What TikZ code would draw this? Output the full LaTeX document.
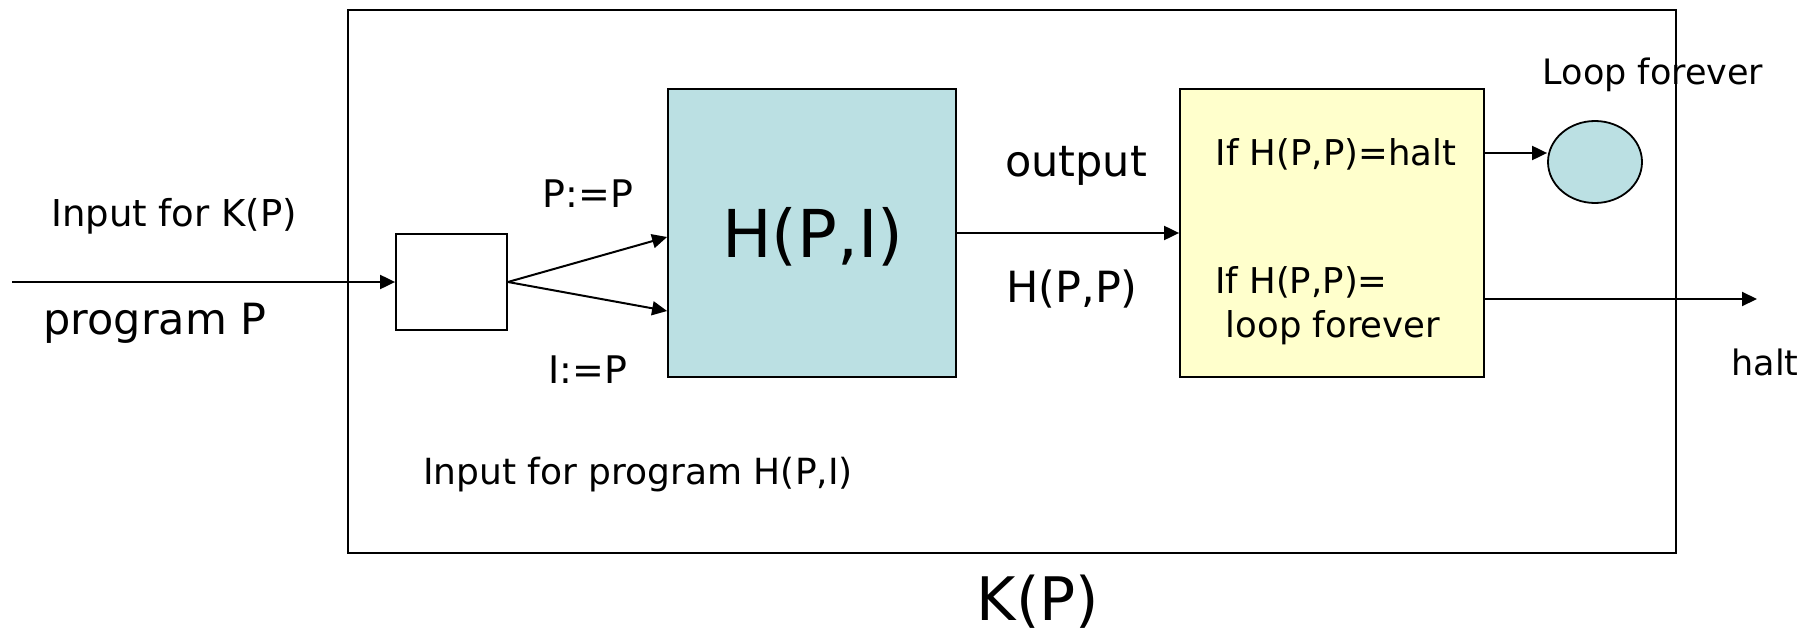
\documentclass[tikz,border=0pt]{standalone}
\usepackage{fontspec}
\setmainfont{DejaVu Sans}
\usetikzlibrary{arrows.meta,shapes.geometric}
\definecolor{hblue}{RGB}{187,224,227}
\definecolor{ylw}{RGB}{255,255,204}
\tikzset{
  box/.style={draw=black, line width=1.8pt, inner sep=0pt},
  arr/.style={line width=2pt, -{Triangle[length=15pt,width=14pt]}},
  lbl/.style={inner sep=0pt, anchor=center},
}
\newcommand{\fs}[1]{\fontsize{#1}{#1}\selectfont}
\begin{document}
\begin{tikzpicture}[x=1pt,y=-1pt]
\useasboundingbox (0,0) rectangle (1815,634);
\node[box, minimum width=1328pt, minimum height=543pt] (outer) at (1012,281.5) {};
\node[box, minimum width=111pt, minimum height=96pt] (split) at (451.5,282) {};
\node[box, fill=hblue, minimum width=288pt, minimum height=288pt] (H) at (812,233) {};
\node[box, fill=ylw, minimum width=304pt, minimum height=288pt] (Y) at (1332,233) {};
\node[box, fill=hblue, ellipse, minimum width=94pt, minimum height=82pt] (E) at (1595,162) {};

\coordinate (in) at (12,282);
\coordinate (hend) at (1757,299);
\draw[arr] (in) -- (split.west);
\draw[arr] (split.east) -- ([yshift=-4pt]H.west);
\draw[arr] (split.east) -- ([yshift=-78pt]H.west);
\draw[arr] (H.east) -- (Y.west);
\draw[arr] ([yshift=80pt]Y.east) -- ([yshift=80pt]Y.east -| E.west);
\draw[arr] ([yshift=-66pt]Y.east) -- (hend);

\node[lbl] (t1) at (174,216) {\fs{37}Input for K(P)};
\node[lbl] (t2) at (155,323) {\fs{43}program P};
\node[lbl] (t3) at (588,194) {\fs{38}P:=P};
\node[lbl] (t4) at (588,370) {\fs{38}I:=P};
\node[lbl] (t5) at (813,237) {\fs{66}H(P,I)};
\node[lbl] (t6) at (1076,166) {\fs{43}output};
\node[lbl] (t7) at (1072,289) {\fs{43}H(P,P)};
\node[lbl] (t8) at (1336,154) {\fs{35.5}If H(P,P)=halt};
\node[lbl, anchor=west] (t9) at (1215,282) {\fs{35.5}If H(P,P)=};
\node[lbl] (t10) at (1333,328) {\fs{35.5}loop forever};
\node[lbl] (t11) at (1653,75) {\fs{35}Loop forever};
\node[lbl] (t12) at (1765,362) {\fs{35}halt};
\node[lbl] (t13) at (638,475) {\fs{36}Input for program H(P,I)};
\node[lbl] (t14) at (1038,602) {\fs{60}K(P)};
\end{tikzpicture}
\end{document}
